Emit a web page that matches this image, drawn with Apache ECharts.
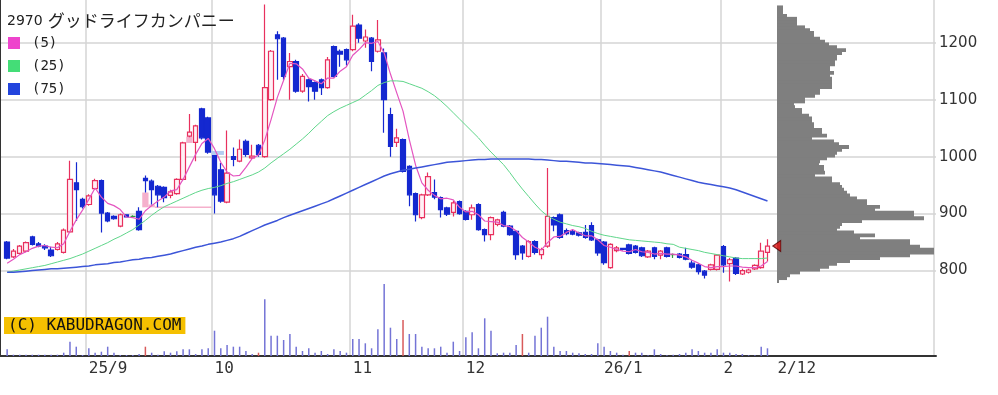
<!DOCTYPE html>
<html><head><meta charset="utf-8">
<script src="https://cdn.jsdelivr.net/npm/echarts@6/dist/echarts.min.js"></script>
<style>html,body{margin:0;padding:0;background:#fff}#c{width:998px;height:395px}</style>
</head><body><div id="c"></div>
<script>
const dates = ['25/8/13','25/8/14','25/8/15','25/8/18','25/8/19','25/8/20','25/8/21','25/8/22','25/8/25','25/8/26','25/8/27','25/8/28','25/8/29',
'25/9/1','25/9/2','25/9/3','25/9/4','25/9/5','25/9/8','25/9/9','25/9/10','25/9/11','25/9/12','25/9/16','25/9/17','25/9/18','25/9/19','25/9/22','25/9/24','25/9/25','25/9/26','25/9/29','25/9/30',
'25/10/1','25/10/2','25/10/3','25/10/6','25/10/7','25/10/8','25/10/9','25/10/10','25/10/14','25/10/15','25/10/16','25/10/17','25/10/20','25/10/21','25/10/22','25/10/23','25/10/24','25/10/27','25/10/28','25/10/29','25/10/30','25/10/31',
'25/11/4','25/11/5','25/11/6','25/11/7','25/11/10','25/11/11','25/11/12','25/11/13','25/11/14','25/11/17','25/11/18','25/11/19','25/11/20','25/11/21','25/11/25','25/11/26','25/11/27','25/11/28',
'25/12/1','25/12/2','25/12/3','25/12/4','25/12/5','25/12/8','25/12/9','25/12/10','25/12/11','25/12/12','25/12/15','25/12/16','25/12/17','25/12/18','25/12/19','25/12/22','25/12/23','25/12/24','25/12/25','25/12/26','25/12/29','25/12/30',
'26/1/5','26/1/6','26/1/7','26/1/8','26/1/9','26/1/13','26/1/14','26/1/15','26/1/16','26/1/19','26/1/20','26/1/21','26/1/22','26/1/23','26/1/26','26/1/27','26/1/28','26/1/29','26/1/30',
'26/2/2','26/2/3','26/2/4','26/2/5','26/2/6','26/2/9','26/2/10','26/2/12'];

const opens = [850,824,830,834,859,847,843,836,837,832,868,954,925,916,944,958,901,895,878,898,
895,904,962,957,948,946,932,935,960,1036,1025,1084,1068,1002,977,920,1000,992,1027,998,
1020,1000,1100,1214,1208,1158,1167,1115,1135,1130,1135,1121,1193,1185,1188,1188,1231,1203,1208,1185,
1182,1074,1025,1030,983,935,893,933,937,928,910,902,921,904,898,916,872,863,881,902,
878,869,843,825,851,828,843,893,898,870,869,866,867,879,854,850,805,835,839,845,
843,840,824,840,827,840,828,829,828,813,810,799,802,802,842,812,822,794,797,803,
805,832];
const closes = [822,834,843,849,846,843,840,826,847,871,960,942,912,931,958,901,887,891,898,894,
895,872,958,942,933,928,938,960,1024,1043,1054,1033,1008,933,922,971,995,1013,1004,1001,
1004,1121,1185,1207,1141,1167,1115,1141,1123,1115,1121,1170,1141,1180,1170,1229,1208,1210,1167,1205,
1100,1018,1033,974,933,898,933,965,929,907,899,919,900,890,910,872,863,893,889,878,
863,828,831,851,832,837,895,880,858,865,864,862,858,854,831,814,846,840,837,830,
832,826,834,825,834,825,828,823,820,806,798,792,810,827,810,819,795,800,801,809,
834,843];
const lows = [820,822,828,832,844,841,836,824,835,830,866,887,909,914,942,867,885,889,876,893,
894,870,937,916,911,920,927,933,958,1034,992,1030,1005,900,919,918,983,990,1000,996,
1000,998,1098,1135,1135,1100,1112,1112,1097,1100,1108,1119,1139,1158,1160,1185,1200,1191,1150,1183,
1042,1000,1017,972,913,886,890,931,925,893,896,895,898,888,889,870,851,853,878,876,
861,819,819,823,828,820,840,869,856,862,862,860,856,852,826,810,803,832,835,828,
830,824,822,820,820,823,822,821,818,803,793,786,800,800,796,781,792,792,795,801,
803,816];
const highs = [852,838,845,851,861,850,846,842,850,874,993,990,928,934,961,960,903,897,900,899,
897,911,967,960,950,948,942,962,1026,1075,1056,1086,1070,1003,989,1046,1016,1030,1030,1021,
1022,1267,1187,1220,1210,1182,1170,1145,1137,1132,1137,1175,1195,1188,1190,1249,1234,1223,1210,1240,
1190,1086,1049,1032,985,937,935,972,960,930,912,922,923,906,916,918,874,895,891,905,
880,871,845,853,853,840,980,895,900,874,871,868,880,885,856,852,848,843,840,847,
845,842,836,842,836,842,830,831,840,818,812,801,812,829,845,822,824,803,803,811,
849,855];

const ma5 = [813,820,828,833,839,843,844,841,840,847,869,889,906,925,945,929,918,914,907,894,
893,890,905,914,922,929,940,942,960,982,1004,1023,1032,1014,990,973,966,967,981,997,
1003,1029,1065,1104,1134,1164,1163,1154,1138,1133,1128,1138,1138,1150,1158,1178,1188,1200,1199,1202,
1182,1145,1112,1080,1030,985,954,941,932,926,927,924,911,903,904,898,887,886,885,879,
877,870,858,850,841,836,849,859,860,867,872,866,861,861,854,844,841,837,834,833,
837,833,832,829,830,829,829,827,824,818,813,807,805,807,807,808,808,806,805,805,
808,816];
const ma25 = [797,799,801,803,805,807,809,812,815,818,821,825,829,834,839,844,849,855,860,866,
872,880,888,897,905,912,917,922,927,932,937,941,944,946,949,953,956,960,964,968,
973,980,989,997,1005,1013,1022,1031,1041,1052,1062,1072,1079,1085,1090,1095,1100,1108,1116,1125,
1130,1133,1133,1132,1128,1124,1120,1114,1107,1098,1088,1077,1066,1055,1044,1033,1020,1008,997,986,
972,957,943,930,917,905,896,890,885,882,879,877,874,869,865,862,860,858,856,854,
853,852,851,850,849,847,846,841,839,837,835,832,830,828,826,824,822,821,821,821,
821,822];
const ma75 = [797,797,798,799,800,801,802,803,803,804,805,806,807,808,810,811,812,814,815,817,
819,820,822,823,825,827,829,832,835,838,841,843,846,848,850,853,856,860,865,870,
875,880,884,888,893,897,901,905,909,913,917,921,926,931,936,941,946,951,956,961,
966,970,973,976,978,980,982,984,986,988,990,991,992,993,994,995,995,996,996,996,
996,996,996,996,995,995,994,993,992,992,991,990,989,989,988,987,986,985,984,983,
981,979,977,975,973,970,967,964,961,958,955,953,951,949,947,945,942,938,934,930,
926,922];

const volumes = [67,13,13,13,13,13,13,13,13,33,143,93,10,77,33,43,93,33,10,10,
10,20,93,33,13,47,33,47,67,67,20,67,77,253,77,110,93,93,50,20,
33,567,203,203,160,220,93,50,77,33,50,20,67,50,33,170,170,127,77,267,
720,283,170,360,220,220,93,77,77,93,33,143,50,187,237,77,377,253,27,33,
33,110,220,33,203,283,393,93,50,50,33,27,20,20,127,93,50,33,13,50,
33,33,7,67,20,7,13,20,33,67,50,33,33,67,33,33,20,20,7,7,
93,77];
const volumeRedIdx = [22,40,63,82,99];

const profileLevels = [780,785,790,795,800,805,810,815,820,825,830,835,840,845,850,855,860,865,870,875,
880,885,890,895,900,905,910,915,920,925,930,935,940,945,950,955,960,965,970,975,
980,985,990,995,1000,1005,1010,1015,1020,1025,1030,1035,1040,1045,1050,1055,1060,1065,1070,1075,
1080,1085,1090,1095,1100,1105,1110,1115,1120,1125,1130,1135,1140,1145,1150,1155,1160,1165,1170,1175,
1180,1185,1190,1195,1200,1205,1210,1215,1220,1225,1230,1235,1240,1245,1250,1255,1260];
const profileVolumes = [2,10,13,23,43,52,60,73,103,133,157,157,143,133,133,83,98,77,60,63,
65,85,147,137,137,98,103,90,90,80,73,70,67,65,63,55,55,38,48,47,
47,42,43,50,58,60,65,72,62,57,35,50,45,45,37,37,35,35,32,25,
25,18,17,28,28,38,43,43,55,55,55,55,53,57,53,53,58,58,60,60,
65,69,60,52,48,43,37,37,33,28,20,20,20,10,6,6,6];

// price windows (gaps): [startIdx, endIdx, low, high, 1=up / 0=down]
const windows = [[22,22,911,937,1],[23,23,911,916,1],[24,32,910.5,912.5,1],[29,29,1024,1035,1],[33,34,1003,1010,0]];

const monthTickLabels = {'25/9/1':'25/9','25/10/1':'10','25/11/4':'11','25/12/1':'12','26/1/5':'26/1','26/2/2':'2'};
const lastLabel = '2/12';
const priceTicks = [800,900,1000,1100,1200];
const titleCode = '2970';
const titleName = 'グッドライフカンパニー';
const maNames = ['(5)','(25)','(75)'];

const PAD = 26;
const axisCats = dates.concat(Array.from({length: PAD}, (_, k) => 'pad' + k));
const lastDate = dates[dates.length - 1];

const candleData = dates.map((d, i) => {
  const v = [opens[i], closes[i], lows[i], highs[i]];
  if (opens[i] === closes[i]) {
    const g = '#2e9e3e';
    return {value: v, itemStyle: {color: g, color0: g, borderColor: g, borderColor0: g}};
  }
  return v;
});
const volData = volumes.map((v, i) => volumeRedIdx.includes(i)
  ? {value: v, itemStyle: {color: '#d85a5a'}} : v);
const profileData = profileVolumes.map((v, i) => [v, i]);

const gridLine = '#d4d4d4';
const chart = echarts.init(document.getElementById('c'));
chart.setOption({
  animation: false,
  backgroundColor: '#fff',
  title: [
    {text: '{a|' + titleCode + '} {b|' + titleName + '}', left: 7, top: 12, padding: 0,
     textStyle: {fontWeight: 'normal', rich: {a: {fontSize: 14, fontFamily: 'DejaVu Sans', fontWeight: 'normal', color: '#222'},
                        b: {fontSize: 17, fontFamily: 'Noto Sans CJK JP', fontWeight: 'normal', color: '#222'}}}},
    {text: '(C) KABUDRAGON.COM', left: 4, top: 317, padding: [1, 4, 0, 4], backgroundColor: '#f5c000',
     textStyle: {fontSize: 16, fontFamily: 'DejaVu Sans Mono', fontWeight: 'normal', color: '#111', lineHeight: 16}}
  ],
  legend: {
    data: maNames, orient: 'vertical', left: 8, top: 36, padding: 0, itemGap: 9,
    itemWidth: 12, itemHeight: 12, icon: 'rect', selectedMode: false,
    textStyle: {fontSize: 14, fontFamily: 'DejaVu Sans Mono', color: '#222', padding: [0, 0, 0, 7]}
  },
  grid: [
    {left: 4, top: 0, width: 930, height: 356, outerBoundsMode: 'none'},
    {left: 4, top: 276, width: 930, height: 80, outerBoundsMode: 'none'},
    {left: 777, top: 5.95, width: 158, height: 276.45, outerBoundsMode: 'none'},
    {left: 0, top: 0, width: 936, height: 356, outerBoundsMode: 'none'}
  ],
  xAxis: [
    {type: 'category', gridIndex: 0, data: axisCats, boundaryGap: true,
     axisLine: {show: false}, axisTick: {show: false},
     splitLine: {show: true, interval: (i, v) => monthTickLabels[v] !== undefined, lineStyle: {color: gridLine, width: 1.5}},
     axisLabel: {
       interval: (i, v) => monthTickLabels[v] !== undefined || v === lastDate,
       formatter: v => monthTickLabels[v] !== undefined ? monthTickLabels[v] : (v === lastDate ? '{l|' + lastLabel + '}' : ''),
       align: 'left', fontSize: 16, fontFamily: 'DejaVu Sans Mono', color: '#333', margin: 5,
       rich: {l: {padding: [0, 0, 0, 10], fontSize: 16, fontFamily: 'DejaVu Sans Mono', color: '#333'}}
     }},
    {type: 'category', gridIndex: 1, data: axisCats, boundaryGap: true, show: false},
    {type: 'value', gridIndex: 2, min: 0, max: 158, show: false},
    {type: 'value', gridIndex: 3, min: 0, max: 1, axisLine: {show: true, lineStyle: {color: '#333', width: 2}},
     axisTick: {show: false}, axisLabel: {show: false}, splitLine: {show: false}}
  ],
  yAxis: [
    {type: 'value', gridIndex: 0, min: 650, max: 1275, show: false},
    {type: 'value', gridIndex: 1, min: 0, max: 800, show: false},
    {type: 'category', gridIndex: 2, data: profileLevels.map(String), show: false},
    {type: 'value', gridIndex: 3, min: 650, max: 1275, position: 'right',
     axisLine: {show: true, lineStyle: {color: '#333', width: 2}},
     axisTick: {show: true, inside: true, length: 5, customValues: priceTicks, lineStyle: {color: '#333'}},
     axisLabel: {customValues: priceTicks, formatter: v => String(v), fontSize: 15, fontFamily: 'DejaVu Sans', color: '#333', margin: 3},
     splitLine: {show: true, lineStyle: {color: gridLine, width: 1.5}}}
  ],
  series: [
    {type: 'custom', xAxisIndex: 0, yAxisIndex: 0, z: 1, silent: true,
     data: windows,
     encode: {x: [0, 1], y: [2, 3]},
     renderItem: (params, api) => {
       const s = api.value(0), e = api.value(1), lo = api.value(2), hi = api.value(3);
       const band = api.size([1, 0])[0];
       const p0 = api.coord([s, hi]);
       const p1 = api.coord([e, lo]);
       return {type: 'rect',
         shape: {x: p0[0] - band / 2, y: p0[1], width: p1[0] - p0[0] + band, height: Math.max(p1[1] - p0[1], 1.5)},
         style: {fill: api.value(4) ? '#f5b0cc' : '#b4ccf0'}};
     }},
    {type: 'bar', name: 'volume', xAxisIndex: 1, yAxisIndex: 1, data: volData, barWidth: 1.5,
     itemStyle: {color: '#7474d6'}, silent: true},
    {type: 'custom', name: 'profile', xAxisIndex: 2, yAxisIndex: 2, data: profileData, silent: true, z: 2,
     encode: {x: 0, y: 1},
     renderItem: (params, api) => {
       const v = api.value(0), c = api.value(1);
       const h = api.size([0, 1])[1];
       const p0 = api.coord([0, c]);
       const p1 = api.coord([v, c]);
       return {type: 'rect', shape: {x: p0[0], y: p0[1] - h / 2 - 0.5, width: p1[0] - p0[0], height: h + 1},
               style: {fill: '#7f7f7f'}};
     }},
    {type: 'candlestick', xAxisIndex: 0, yAxisIndex: 0, data: candleData, barWidth: 5, z: 3,
     itemStyle: {color: '#fff0f5', color0: '#1428d0', borderColor: '#e8305e', borderColor0: '#1428d0', borderWidth: 1.2}},
    {type: 'line', name: maNames[0], xAxisIndex: 0, yAxisIndex: 0, data: ma5, symbol: 'none', z: 4,
     itemStyle: {color: '#ee44cc'}, lineStyle: {color: '#e455c0', width: 1.2}},
    {type: 'line', name: maNames[1], xAxisIndex: 0, yAxisIndex: 0, data: ma25, symbol: 'none', z: 4,
     itemStyle: {color: '#44dd77'}, lineStyle: {color: '#5fd68a', width: 1}},
    {type: 'line', name: maNames[2], xAxisIndex: 0, yAxisIndex: 0, data: ma75, symbol: 'none', z: 4,
     itemStyle: {color: '#2244dd'}, lineStyle: {color: '#3c55d8', width: 1.5}},
    {type: 'scatter', xAxisIndex: 0, yAxisIndex: 0, z: 5, silent: true,
     data: [[dates.length, closes[closes.length - 1]]],
     symbol: 'path://M0,5L10,0L10,10Z', symbolSize: [8, 11], symbolOffset: [3, 0],
     itemStyle: {color: '#e01010', borderColor: '#500', borderWidth: 1}}
  ]
});
</script></body></html>
